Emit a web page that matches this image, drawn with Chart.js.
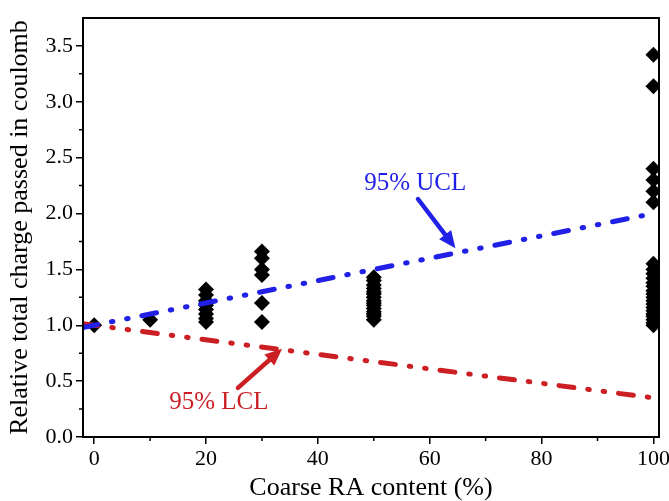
<!DOCTYPE html>
<html>
<head>
<meta charset="utf-8">
<script src="https://cdn.jsdelivr.net/npm/chart.js@4"></script>
<style>
  html, body { margin: 0; padding: 0; background: #fff; }
  #wrap { width: 669px; height: 501px; }
</style>
</head>
<body>
<div id="wrap"><canvas id="c" width="669" height="501"></canvas></div>
<script>
// Relative total charge passed vs. coarse RA content
const raLevels = [0, 10, 20, 30, 50, 100];
const charge0 = [1.00];
const charge10 = [1.05];
const charge20 = [1.03, 1.06, 1.10, 1.14, 1.18, 1.22, 1.27, 1.32];
const charge30 = [1.03, 1.20, 1.45, 1.50, 1.60, 1.66];
const charge50 = [1.05, 1.08, 1.10, 1.12, 1.15, 1.18, 1.20, 1.22, 1.25, 1.28, 1.30, 1.33, 1.36, 1.40, 1.43];
const charge100 = [1.00, 1.02, 1.05, 1.08, 1.10, 1.13, 1.16, 1.19, 1.22, 1.25, 1.28, 1.31, 1.35, 1.38, 1.42, 1.46, 1.50, 1.55,
                   2.10, 2.20, 2.30, 2.40, 3.14, 3.42];
const chargeByLevel = [charge0, charge10, charge20, charge30, charge50, charge100];

// Confidence limits (drawn from the left edge of the axis)
const limitX = [-2, 100];
const uclY = [0.98, 2.0];
const lclY = [1.013, 0.35];

const xTicks = [0, 20, 40, 60, 80, 100];
const yTicks = [0, 0.5, 1.0, 1.5, 2.0, 2.5, 3.0, 3.5];

const points = [];
raLevels.forEach((x, i) => chargeByLevel[i].forEach(y => points.push({ x, y })));
const ucl = limitX.map((x, i) => ({ x, y: uclY[i] }));
const lcl = limitX.map((x, i) => ({ x, y: lclY[i] }));

const SERIF = '"Liberation Serif", "Times New Roman", serif';
const BLUE = '#2020e6';
const RED = '#cc1f24';
const DASH_DOT_DOT = [15, 14, 1.5, 14, 1.5, 14];

// Frame, minor ticks and labelled arrows
const extras = {
  id: 'extras',
  afterDraw(chart) {
    const ctx = chart.ctx;
    const a = chart.chartArea;
    const xs = chart.scales.x, ys = chart.scales.y;
    ctx.save();
    ctx.strokeStyle = '#000';
    ctx.lineWidth = 1.5;
    ctx.beginPath();
    [10, 30, 50, 70, 90].forEach(v => {
      const px = xs.getPixelForValue(v);
      ctx.moveTo(px, a.bottom); ctx.lineTo(px, a.bottom + 4);
    });
    [0.25, 0.75, 1.25, 1.75, 2.25, 2.75, 3.25].forEach(v => {
      const py = ys.getPixelForValue(v);
      ctx.moveTo(a.left, py); ctx.lineTo(a.left - 4, py);
    });
    ctx.stroke();
    ctx.lineWidth = 2;
    ctx.strokeRect(a.left, a.top, a.right - a.left, a.bottom - a.top);
    ctx.restore();
  },
  afterDatasetsDraw(chart) {
    const ctx = chart.ctx;
    const xs = chart.scales.x, ys = chart.scales.y;
    const P = (x, y) => [xs.getPixelForValue(x), ys.getPixelForValue(y)];
    function arrow(from, to, color) {
      const [x1, y1] = P(from[0], from[1]);
      const [x2, y2] = P(to[0], to[1]);
      const ang = Math.atan2(y2 - y1, x2 - x1);
      const head = 17, half = 7.5;
      const bx = x2 - head * Math.cos(ang), by = y2 - head * Math.sin(ang);
      ctx.save();
      ctx.strokeStyle = color; ctx.fillStyle = color;
      ctx.lineWidth = 4.5; ctx.lineCap = 'round';
      ctx.beginPath(); ctx.moveTo(x1, y1); ctx.lineTo(bx, by); ctx.stroke();
      ctx.beginPath();
      ctx.moveTo(x2, y2);
      ctx.lineTo(bx + half * Math.sin(ang), by - half * Math.cos(ang));
      ctx.lineTo(bx - half * Math.sin(ang), by + half * Math.cos(ang));
      ctx.closePath(); ctx.fill();
      ctx.restore();
    }
    function label(text, at, color) {
      const [x, y] = P(at[0], at[1]);
      ctx.save();
      ctx.font = '25px ' + SERIF;
      ctx.fillStyle = color;
      ctx.textAlign = 'center'; ctx.textBaseline = 'middle';
      ctx.fillText(text, x, y);
      ctx.restore();
    }
    label('95% UCL', [57.4, 2.27], BLUE);
    arrow([57.9, 2.13], [64.6, 1.69], BLUE);
    label('95% LCL', [22.3, 0.31], RED);
    arrow([25.7, 0.44], [33.6, 0.79], RED);
  }
};

new Chart(document.getElementById('c'), {
  type: 'scatter',
  data: {
    datasets: [
      {
        label: 'Measured',
        data: points,
        pointStyle: 'rectRot',
        pointRadius: 8,
        pointBorderWidth: 0,
        backgroundColor: '#000',
        borderColor: '#000',
        order: 1
      },
      {
        label: '95% UCL',
        data: ucl,
        showLine: true,
        borderColor: BLUE,
        borderWidth: 5,
        borderDash: DASH_DOT_DOT,
        borderCapStyle: 'round',
        pointRadius: 0,
        order: 0
      },
      {
        label: '95% LCL',
        data: lcl,
        showLine: true,
        borderColor: RED,
        borderWidth: 5,
        borderDash: DASH_DOT_DOT,
        borderCapStyle: 'round',
        pointRadius: 0,
        order: 0
      }
    ]
  },
  options: {
    responsive: false,
    animation: false,
    devicePixelRatio: 1,
    layout: { padding: { top: 18, right: 10, left: 0, bottom: 0 } },
    plugins: { legend: { display: false }, tooltip: { enabled: false } },
    scales: {
      x: {
        type: 'linear',
        min: -2, max: 101,
        afterBuildTicks: s => { s.ticks = xTicks.map(v => ({ value: v })); },
        afterFit: s => { s.height = 64; s.paddingLeft = 0; s.paddingRight = 0; },
        ticks: {
          font: { family: SERIF, size: 22 },
          color: '#000',
          padding: 2,
          maxRotation: 0,
          callback: v => String(v)
        },
        grid: { drawOnChartArea: false, drawTicks: true, tickLength: 7, color: '#000', lineWidth: 1.5 },
        border: { display: true, color: '#000', width: 2 },
        title: {
          display: true,
          text: 'Coarse RA content (%)',
          font: { family: SERIF, size: 26, lineHeight: 1 },
          color: '#000',
          padding: { top: 0, bottom: 0 }
        }
      },
      y: {
        type: 'linear',
        min: 0, max: 3.75,
        afterBuildTicks: s => { s.ticks = yTicks.map(v => ({ value: v })); },
        afterFit: s => { s.width = 83; s.paddingTop = 0; s.paddingBottom = 0; },
        ticks: {
          font: { family: SERIF, size: 22 },
          color: '#000',
          padding: 3,
          callback: v => Number(v).toFixed(1)
        },
        grid: { drawOnChartArea: false, drawTicks: true, tickLength: 7, color: '#000', lineWidth: 1.5 },
        border: { display: true, color: '#000', width: 2 },
        title: {
          display: true,
          text: 'Relative total charge passed in coulomb',
          font: { family: SERIF, size: 26, lineHeight: 1 },
          color: '#000',
          padding: { top: 7, bottom: 0 }
        }
      }
    }
  },
  plugins: [extras]
});
</script>
</body>
</html>
